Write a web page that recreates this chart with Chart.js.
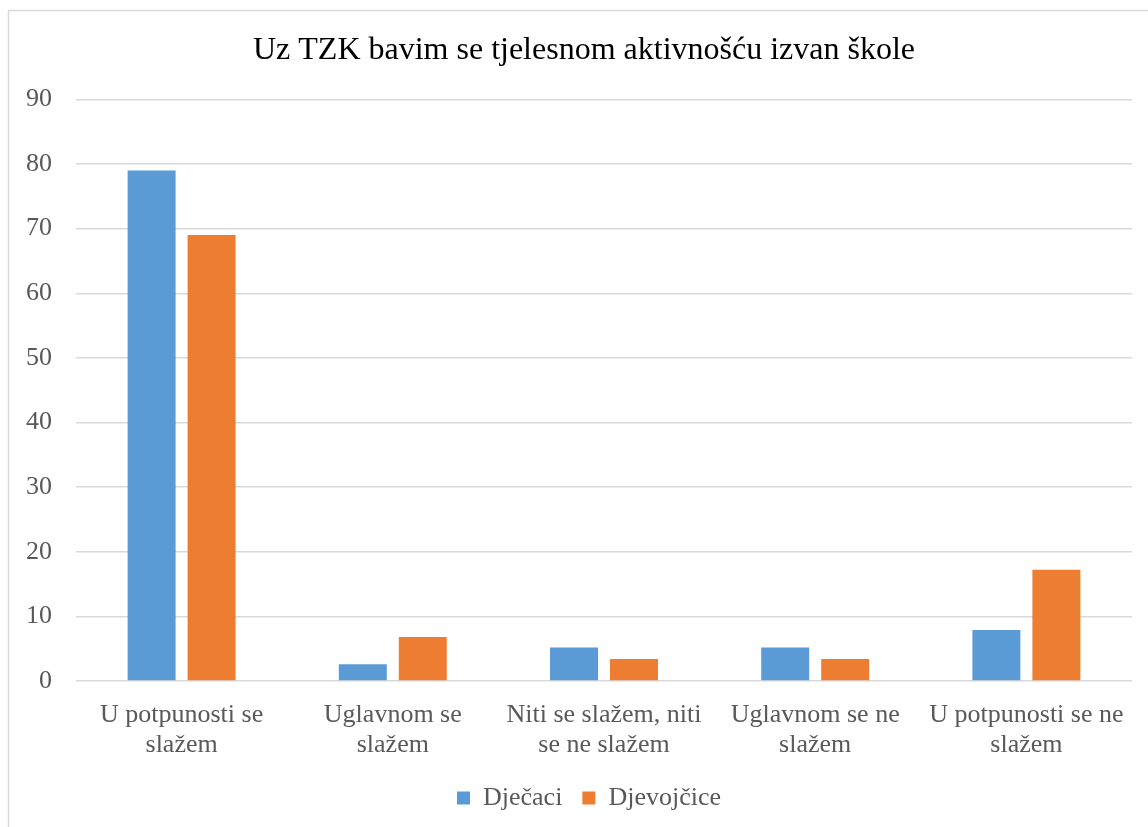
<!DOCTYPE html>
<html>
<head>
<meta charset="utf-8">
<script src="https://cdn.jsdelivr.net/npm/chart.js@4"></script>
<style>
  html, body { margin: 0; padding: 0; background: #fff; }
  #wrap { width: 1148px; height: 827px; position: relative; }
</style>
</head>
<body>
<div id="wrap"><canvas id="chart" width="1148" height="827"></canvas></div>
<script>
// Chart data
const categories = [
  ['U potpunosti se', 'slažem'],
  ['Uglavnom se', 'slažem'],
  ['Niti se slažem, niti', 'se ne slažem'],
  ['Uglavnom se ne', 'slažem'],
  ['U potpunosti se ne', 'slažem']
];
const djecaci = [79, 2.6, 5.2, 5.2, 7.9];
const djevojcice = [69, 6.8, 3.4, 3.4, 17.2];
const yTicks = [0, 10, 20, 30, 40, 50, 60, 70, 80, 90];

const serif = '"Liberation Serif", "Times New Roman", serif';
const grey = '#595959';

// light frame around the chart (cut off on the right and bottom),
// and nudge title / legend to the centre of that frame
const framePlugin = {
  id: 'frame',
  afterLayout(chart) {
    chart.titleBlock.left += 16;
    chart.legend.left += 26;
  },
  beforeDraw(chart) {
    const ctx = chart.ctx;
    ctx.save();
    ctx.strokeStyle = '#d9d9d9';
    ctx.lineWidth = 1.5;
    ctx.beginPath();
    ctx.moveTo(8.5, 827);
    ctx.lineTo(8.5, 10.5);
    ctx.lineTo(1148, 10.5);
    ctx.stroke();
    ctx.restore();
  }
};

new Chart(document.getElementById('chart'), {
  type: 'bar',
  data: {
    labels: categories,
    datasets: [
      { label: 'Dječaci', data: djecaci, backgroundColor: '#5B9BD5' },
      { label: 'Djevojčice', data: djevojcice, backgroundColor: '#ED7D31' }
    ]
  },
  options: {
    responsive: false,
    animation: false,
    categoryPercentage: 0.568,
    barPercentage: 0.8,
    layout: { padding: { left: 20, right: 16, top: 0, bottom: 6 } },
    scales: {
      x: {
        grid: { display: false },
        border: { display: false },
        ticks: {
          color: grey,
          padding: 11,
          maxRotation: 0,
          autoSkip: false,
          font: { family: serif, size: 26, lineHeight: 1.15 }
        },
        afterFit(scale) { scale.height = 84; }
      },
      y: {
        min: 0,
        max: 90,
        afterBuildTicks(scale) { scale.ticks = yTicks.map(v => ({ value: v })); },
        grid: { color: '#d9d9d9', lineWidth: 1.5, drawTicks: false },
        border: { display: false },
        ticks: {
          color: grey,
          padding: 24,
          font: { family: serif, size: 26 }
        },
        afterFit(scale) { scale.width = 56; }
      }
    },
    plugins: {
      title: {
        display: true,
        text: 'Uz TZK bavim se tjelesnom aktivnošću izvan škole',
        color: '#000',
        font: { family: serif, size: 32, weight: 'normal' },
        padding: { top: 31, bottom: 30 }
      },
      legend: {
        position: 'bottom',
        labels: {
          color: grey,
          boxWidth: 13,
          boxHeight: 13,
          padding: 20,
          font: { family: serif, size: 26 }
        }
      },
      tooltip: { enabled: false }
    }
  },
  plugins: [framePlugin]
});
</script>
</body>
</html>
